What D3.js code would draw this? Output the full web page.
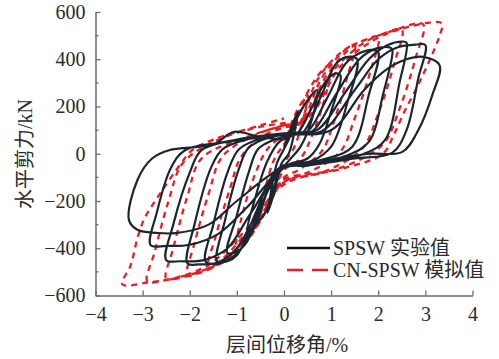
<!DOCTYPE html>
<html>
<head>
<meta charset="utf-8">
<script src="https://cdn.jsdelivr.net/npm/d3@7"></script>
<style>
  html, body { margin: 0; padding: 0; background: #fff; }
  svg { display: block; }
</style>
</head>
<body>
<svg id="chart" width="499" height="359"></svg>
<script>
// Axis ticks
const xTicks = [-4, -3, -2, -1, 0, 1, 2, 3, 4];
const yTicks = [-600, -400, -200, 0, 200, 400, 600];
const yMinorTicks = [-500, -300, -100, 100, 300, 500];

// Series names
const seriesNames = ["SPSW 实验值", "CN-SPSW 模拟值"];

// SPSW test: load cycles, [drift %, shear kN]
const expCycle1 = [[0,20],[0.15,110],[0.3,180],[0.25,120],[0.1,0],[-0.05,-40],[-0.2,-160],[-0.35,-250],[-0.3,-190],[-0.15,-40],[0,20]];
const expCycle2 = [[0.1,60],[0.3,160],[0.55,240],[0.7,270],[0.6,150],[0.35,30],[0.1,-30],[-0.1,-80],[-0.4,-250],[-0.7,-320],[-0.78,-330],[-0.6,-180],[-0.35,-30],[-0.1,50],[0.1,70]];
const expCycle3 = [[0.3,90],[0.6,200],[0.9,310],[1.1,340],[1.2,330],[1.0,180],[0.75,40],[0.5,-20],[0.1,-45],[-0.2,-90],[-0.6,-300],[-0.9,-400],[-1.2,-420],[-1.0,-260],[-0.75,-80],[-0.55,20],[-0.2,60],[0.2,80]];
const expCycle4 = [[0.4,90],[0.8,250],[1.1,380],[1.35,410],[1.55,400],[1.35,220],[1.0,30],[0.6,-30],[0.1,-50],[-0.2,-80],[-0.6,-250],[-1.0,-430],[-1.2,-455],[-1.42,-457],[-1.25,-280],[-0.95,-60],[-0.75,25],[-0.3,70],[0.2,85]];
const expCycle5 = [[0.5,95],[0.9,230],[1.3,380],[1.6,425],[1.85,440],[2.0,430],[1.8,250],[1.45,30],[0.9,-20],[0.3,-45],[-0.1,-60],[-0.5,-230],[-0.9,-400],[-1.3,-460],[-1.66,-457],[-1.5,-300],[-1.2,-80],[-0.95,20],[-0.4,70],[0.3,90]];
const expCycle6 = [[0.6,95],[1.1,250],[1.6,400],[1.95,445],[2.25,450],[2.3,440],[2.1,250],[1.8,50],[1.3,-10],[0.5,-45],[0,-60],[-0.6,-260],[-1.0,-400],[-1.4,-460],[-1.8,-468],[-2.05,-464],[-1.9,-300],[-1.55,-60],[-1.3,20],[-0.6,70],[0.2,90]];
const expCycle7 = [[0.7,100],[1.3,260],[1.8,400],[2.2,460],[2.5,475],[2.6,470],[2.45,300],[2.15,60],[1.7,0],[0.8,-40],[0,-60],[-0.7,-250],[-1.2,-400],[-1.7,-450],[-2.2,-455],[-2.5,-450],[-2.35,-300],[-2.0,-80],[-1.75,15],[-1.0,60],[0,85]];
const expCycle8 = [[0.8,95],[1.5,270],[2.0,400],[2.4,450],[2.8,462],[3.0,460],[2.85,320],[2.6,100],[2.3,5],[1.5,-20],[0.5,-50],[0,-60],[-0.8,-230],[-1.4,-340],[-2.0,-385],[-2.5,-390],[-2.83,-387],[-2.7,-250],[-2.4,-60],[-2.1,15],[-1.2,50],[0,80]];
const expCycle9 = [[1.0,100],[1.7,270],[2.2,360],[2.6,400],[2.95,410],[3.3,375],[3.15,250],[2.85,100],[2.51,8],[1.8,0],[0.8,-30],[0,-55],[-1.0,-200],[-1.6,-300],[-2.3,-336],[-2.7,-335],[-3.1,-323],[-3.29,-281],[-3.11,-111],[-2.8,-20],[-2.44,15],[-1.5,40],[-1.06,93],[-0.5,70],[0,60]];

// CN-SPSW simulation: load cycles, [drift %, shear kN]
const simCycle1 = [[0,30],[0.2,150],[0.45,240],[0.5,250],[0.4,140],[0.2,20],[0,-40],[-0.2,-150],[-0.45,-250],[-0.5,-260],[-0.4,-150],[-0.2,-20],[0,40]];
const simCycle2 = [[0.2,110],[0.5,260],[0.8,350],[1.0,380],[0.9,260],[0.6,80],[0.35,-20],[0,-70],[-0.3,-200],[-0.7,-340],[-1.0,-390],[-0.9,-270],[-0.6,-80],[-0.35,20],[0,80]];
const simCycle3 = [[0.3,120],[0.7,310],[1.1,410],[1.5,460],[1.35,330],[1.05,130],[0.8,10],[0.3,-70],[0,-100],[-0.4,-250],[-0.9,-400],[-1.3,-460],[-1.6,-480],[-1.45,-350],[-1.15,-150],[-0.9,-10],[-0.4,80],[0,110]];
const simCycle4 = [[0.35,130],[0.8,320],[1.3,440],[1.7,480],[2.0,495],[1.85,360],[1.5,150],[1.2,10],[0.5,-80],[0,-110],[-0.5,-280],[-1.0,-410],[-1.5,-480],[-1.8,-505],[-2.05,-515],[-1.9,-380],[-1.6,-170],[-1.3,-10],[-0.6,80],[0,120]];
const simCycle5 = [[0.4,140],[0.9,330],[1.5,460],[2.0,500],[2.5,525],[2.35,390],[2.0,170],[1.65,20],[0.8,-80],[0,-120],[-0.6,-300],[-1.2,-440],[-1.8,-500],[-2.2,-520],[-2.5,-530],[-2.35,-400],[-2.05,-180],[-1.75,-20],[-0.8,70],[0,120]];
const simCycle6 = [[0.45,140],[1.0,340],[1.7,470],[2.3,520],[2.95,548],[2.8,410],[2.45,190],[2.1,40],[1.2,-60],[0,-120],[-0.7,-310],[-1.4,-460],[-2.0,-515],[-2.5,-535],[-2.9,-540],[-2.75,-420],[-2.45,-200],[-2.15,-40],[-1.5,50],[-0.6,110],[0,130]];
const simCycle7 = [[0.5,150],[1.2,370],[1.9,480],[2.6,535],[3.35,552],[3.3,500],[3.1,400],[2.83,285],[2.54,172],[2.33,80],[2.1,0],[1.3,-60],[0,-130],[-0.8,-320],[-1.6,-470],[-2.3,-525],[-2.9,-545],[-3.43,-553],[-3.25,-470],[-3.1,-350],[-2.95,-270],[-2.6,-160],[-2.2,-45],[-1.95,15],[-1.5,60],[-0.5,120],[0,150]];

const expCycles = [expCycle1, expCycle2, expCycle3, expCycle4, expCycle5, expCycle6, expCycle7, expCycle8, expCycle9];
const simCycles = [simCycle1, simCycle2, simCycle3, simCycle4, simCycle5, simCycle6, simCycle7];

const svg = d3.select("#chart");
const serif = "'Liberation Serif', 'Times New Roman', 'Noto Sans CJK SC', serif";
const axisColor = "#6b6b6b";
const textColor = "#2b2b2b";

const x = d3.scaleLinear().domain([-4, 4]).range([95.5, 472.5]);
const y = d3.scaleLinear().domain([-600, 600]).range([295.5, 12]);

// Axes with inward ticks
const gx = svg.append("g").attr("transform", `translate(0,${y(-600)})`)
  .call(d3.axisBottom(x).tickValues(xTicks).tickSize(-5).tickPadding(11).tickSizeOuter(0));
const gy = svg.append("g").attr("transform", `translate(${x(-4)},0)`)
  .call(d3.axisLeft(y).tickValues(yTicks).tickSize(-5).tickPadding(10).tickSizeOuter(0));
gy.selectAll(".minor").data(yMinorTicks).enter().append("line")
  .attr("class", "minor").attr("x1", 0).attr("x2", 3)
  .attr("y1", d => y(d)).attr("y2", d => y(d));

[gx, gy].forEach(g => {
  g.selectAll("path.domain").attr("stroke", axisColor).attr("stroke-width", 1.5);
  g.selectAll("line").attr("stroke", axisColor).attr("stroke-width", 1.3);
  g.selectAll("text").attr("font-family", serif).attr("font-size", 20).attr("fill", textColor);
});

// Hysteresis curves
const line = d3.line().x(d => x(d[0])).y(d => y(d[1])).curve(d3.curveCatmullRom.alpha(0.5));

const plot = svg.append("g");
plot.append("path")
  .datum(d3.merge(simCycles))
  .attr("d", line)
  .attr("fill", "none")
  .attr("stroke", "#ec1c24")
  .attr("stroke-width", 2.3)
  .attr("stroke-dasharray", "6,5");
plot.append("path")
  .datum(d3.merge(expCycles))
  .attr("d", line)
  .attr("fill", "none")
  .attr("stroke", "#1c2630")
  .attr("stroke-width", 2.2)
  .attr("stroke-linejoin", "round");

// Axis titles
svg.append("text")
  .attr("x", 287).attr("y", 352)
  .attr("text-anchor", "middle")
  .attr("font-family", serif).attr("font-size", 20).attr("fill", textColor)
  .text("层间位移角/%");
svg.append("text")
  .attr("transform", "translate(32,154) rotate(-90)")
  .attr("text-anchor", "middle")
  .attr("font-family", serif).attr("font-size", 20).attr("fill", textColor)
  .text("水平剪力/kN");

// Legend
const legend = svg.append("g");
const legendRows = [
  { name: seriesNames[0], color: "#111", dash: null, y: 248 },
  { name: seriesNames[1], color: "#ec1c24", dash: "16,9", y: 270 }
];
legendRows.forEach(r => {
  legend.append("line")
    .attr("x1", 287).attr("x2", 330).attr("y1", r.y).attr("y2", r.y)
    .attr("stroke", r.color).attr("stroke-width", 2.6)
    .attr("stroke-dasharray", r.dash);
  legend.append("text")
    .attr("x", 333).attr("y", r.y + 7)
    .attr("font-family", serif).attr("font-size", 20).attr("fill", textColor)
    .text(r.name);
});
</script>
</body>
</html>
